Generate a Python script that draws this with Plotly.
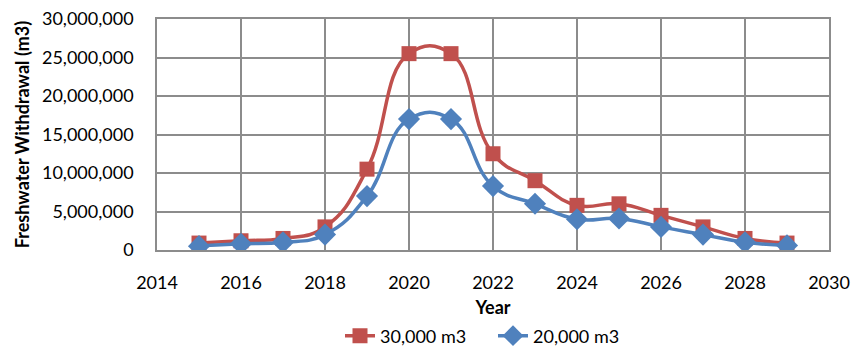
import plotly.graph_objects as go

years = [2015, 2016, 2017, 2018, 2019, 2020, 2021, 2022, 2023, 2024, 2025, 2026, 2027, 2028, 2029]
withdrawal_30k = [900000, 1200000, 1500000, 3000000, 10500000, 25500000, 25500000, 12500000,
                  9000000, 5800000, 6000000, 4500000, 3000000, 1500000, 900000]
withdrawal_20k = [500000, 800000, 1000000, 2000000, 7000000, 17000000, 17000000, 8300000,
                  6000000, 4000000, 4100000, 3000000, 2000000, 1000000, 600000]

RED = "#C0504D"
BLUE = "#4F81BD"
GRID = "#8C8C8C"
FONT = "Lato, Open Sans, sans-serif"

fig = go.Figure()
fig.add_trace(go.Scatter(
    x=years, y=withdrawal_30k, name="30,000 m3", mode="lines+markers",
    line=dict(color=RED, width=3.5, shape="spline", smoothing=1.3),
    marker=dict(symbol="square", size=15, color=RED),
))
fig.add_trace(go.Scatter(
    x=years, y=withdrawal_20k, name="20,000 m3", mode="lines+markers",
    line=dict(color=BLUE, width=3.5, shape="spline", smoothing=1.3),
    marker=dict(symbol="diamond", size=17, color=BLUE),
))

fig.update_layout(
    width=855, height=349,
    margin=dict(l=157, r=26, t=19, b=99, autoexpand=False),
    paper_bgcolor="white", plot_bgcolor="white",
    font=dict(family=FONT, size=18, color="#000000"),
    showlegend=True,
    legend=dict(orientation="h", x=0.5, xanchor="center", y=-0.372, yanchor="middle",
                font=dict(size=18), traceorder="normal",
                entrywidth=108, entrywidthmode="pixels"),
    xaxis=dict(
        range=[2014, 2030], tickmode="linear", tick0=2014, dtick=2,
        showgrid=True, gridcolor=GRID, gridwidth=1.5,
        showline=True, linecolor=GRID, linewidth=1.5, mirror=True,
        zeroline=False, ticks="outside", ticklen=16, tickcolor="white",
        title=dict(text="<b>Year</b>", font=dict(size=18), standoff=9),
        automargin=False,
    ),
    yaxis=dict(
        range=[0, 30000000], tickmode="linear", tick0=0, dtick=5000000,
        tickformat=",d",
        showgrid=True, gridcolor=GRID, gridwidth=1.5,
        showline=True, linecolor=GRID, linewidth=1.5, mirror=True,
        zeroline=False, ticks="outside", ticklen=18, tickcolor="white",
        title=dict(text="<b>Freshwater Withdrawal (m3)</b>", font=dict(size=18), standoff=8),
        automargin=False,
    ),
)

fig.write_html("out.html")
